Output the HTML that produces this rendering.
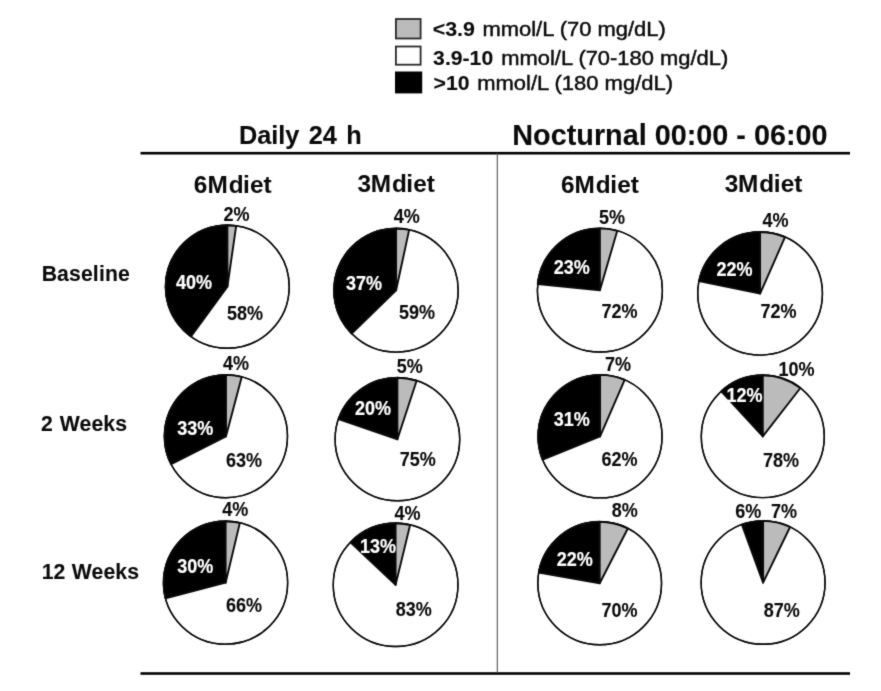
<!DOCTYPE html>
<html lang="en"><head><meta charset="utf-8"><title>Time in glucose ranges</title>
<style>
html,body{margin:0;padding:0;background:#fff;}
body{width:881px;height:691px;overflow:hidden;position:relative;}
svg{position:absolute;left:0;top:0;display:block;}
text{font-family:"Liberation Sans",Arial,Helvetica,sans-serif;fill:#0a0a0a;stroke:#0a0a0a;stroke-width:0.1px;}
.b{font-weight:bold;}
.p{font-weight:bold;font-size:19.4px;stroke-width:0.1px;}
.w{fill:#fff;stroke:#fff;stroke-width:0.2px;}
.lg{font-size:21.1px;}
.r{stroke-width:0.45px;}
.sh{font-weight:bold;font-size:23px;stroke-width:0.05px;}
.rl{font-weight:bold;font-size:21.2px;letter-spacing:0.13px;}
</style></head><body>
<svg width="881" height="691" viewBox="0 0 881 691">
<rect width="881" height="691" fill="#fff"/>
<defs><filter id="soft" filterUnits="userSpaceOnUse" x="0" y="0" width="881" height="691" color-interpolation-filters="sRGB"><feConvolveMatrix order="3" kernelMatrix="0.01609 0.09468 0.01609 0.09468 0.55692 0.09468 0.01609 0.09468 0.01609" divisor="1" edgeMode="duplicate" preserveAlpha="true"/></filter></defs>
<g filter="url(#soft)">
<rect width="881" height="691" fill="#fff"/>
<rect x="395.9" y="19.0" width="24.7" height="19.5" fill="#bbbbbb" stroke="#2a2a2a" stroke-width="1.8"/>
<rect x="395.9" y="46.5" width="24.7" height="18.2" fill="#fff" stroke="#2a2a2a" stroke-width="1.8"/>
<rect x="395" y="71.5" width="27.2" height="21.9" fill="#000"/>
<text class="lg" y="35.6"><tspan class="b" x="432.70" textLength="42.29" lengthAdjust="spacingAndGlyphs">&lt;3.9</tspan> <tspan class="r" x="482.45" textLength="183.31" lengthAdjust="spacingAndGlyphs">mmol/L (70 mg/dL)</tspan></text>
<text class="lg" y="64.6"><tspan class="b" x="433.11" textLength="60.05" lengthAdjust="spacingAndGlyphs">3.9-10</tspan> <tspan class="r" x="501.25" textLength="227.00" lengthAdjust="spacingAndGlyphs">mmol/L (70-180 mg/dL)</tspan></text>
<text class="lg" y="89.6"><tspan class="b" x="433.51" textLength="35.96" lengthAdjust="spacingAndGlyphs">&gt;10</tspan> <tspan class="r" x="477.15" textLength="195.91" lengthAdjust="spacingAndGlyphs">mmol/L (180 mg/dL)</tspan></text>
<text class="b" id="h1" x="238.9" y="144.0" font-size="25.3" word-spacing="2.4">Daily 24 h</text>
<text class="b" id="h2" x="512.3" y="145.2" font-size="28.8">Nocturnal 00:00 - 06:00</text>
<rect x="140.5" y="151.9" width="709.5" height="2.6" fill="#000"/>
<rect x="140.5" y="672.2" width="709.5" height="2.6" fill="#000"/>
<rect x="496.75" y="153" width="1.1" height="520" fill="#555"/>
<text class="sh" transform="translate(194.10 192.60) scale(1.06 1)" x="-0.28 12.61 32.64 46.13 52.78 65.47">6Mdiet</text>
<text class="sh" transform="translate(357.40 191.90) scale(1.06 1)" x="0.04 12.61 32.64 46.13 52.78 65.47">3Mdiet</text>
<text class="sh" transform="translate(561.25 192.60) scale(1.06 1)" x="-0.28 12.61 32.64 46.13 52.78 65.47">6Mdiet</text>
<text class="sh" transform="translate(724.75 192.00) scale(1.06 1)" x="0.04 12.61 32.64 46.13 52.78 65.47">3Mdiet</text>
<text class="rl" x="41.70" y="281.0" word-spacing="0">Baseline</text>
<text class="rl" x="40.90" y="431.0" word-spacing="0.9">2 Weeks</text>
<text class="rl" x="41.70" y="578.5" word-spacing="0.2">12 Weeks</text>
<ellipse cx="227.40" cy="286.70" rx="61.80" ry="61.50" fill="#fff" stroke="#0a0a0a" stroke-width="1.4"/>
<path d="M227.40 286.70L191.02 336.41A61.80 61.50 0 0 1 227.40 225.20Z" fill="#000" stroke="#0a0a0a" stroke-width="1.9" stroke-linejoin="round"/>
<path d="M227.40 286.70L227.40 225.20A61.80 61.50 0 0 1 236.17 225.82Z" fill="#bbbbbb" stroke="#0a0a0a" stroke-width="1.9" stroke-linejoin="round"/>
<ellipse cx="227.40" cy="286.70" rx="61.80" ry="61.50" fill="none" stroke="#0a0a0a" stroke-width="1.4"/>
<ellipse cx="396.10" cy="290.30" rx="62.10" ry="61.80" fill="#fff" stroke="#0a0a0a" stroke-width="1.4"/>
<path d="M396.10 290.30L351.68 333.49A62.10 61.80 0 0 1 396.10 228.50Z" fill="#000" stroke="#0a0a0a" stroke-width="1.9" stroke-linejoin="round"/>
<path d="M396.10 290.30L396.10 228.50A62.10 61.80 0 0 1 409.16 229.88Z" fill="#bbbbbb" stroke="#0a0a0a" stroke-width="1.9" stroke-linejoin="round"/>
<ellipse cx="396.10" cy="290.30" rx="62.10" ry="61.80" fill="none" stroke="#0a0a0a" stroke-width="1.4"/>
<ellipse cx="599.90" cy="290.20" rx="62.50" ry="61.80" fill="#fff" stroke="#0a0a0a" stroke-width="1.4"/>
<path d="M599.90 290.20L537.72 283.99A62.50 61.80 0 0 1 599.90 228.40Z" fill="#000" stroke="#0a0a0a" stroke-width="1.9" stroke-linejoin="round"/>
<path d="M599.90 290.20L599.90 228.40A62.50 61.80 0 0 1 617.26 230.83Z" fill="#bbbbbb" stroke="#0a0a0a" stroke-width="1.9" stroke-linejoin="round"/>
<ellipse cx="599.90" cy="290.20" rx="62.50" ry="61.80" fill="none" stroke="#0a0a0a" stroke-width="1.4"/>
<ellipse cx="760.10" cy="293.60" rx="62.35" ry="61.55" fill="#fff" stroke="#0a0a0a" stroke-width="1.4"/>
<path d="M760.10 293.60L699.03 281.18A62.35 61.55 0 0 1 760.10 232.05Z" fill="#000" stroke="#0a0a0a" stroke-width="1.9" stroke-linejoin="round"/>
<path d="M760.10 293.60L760.10 232.05A62.35 61.55 0 0 1 784.99 237.17Z" fill="#bbbbbb" stroke="#0a0a0a" stroke-width="1.9" stroke-linejoin="round"/>
<ellipse cx="760.10" cy="293.60" rx="62.35" ry="61.55" fill="none" stroke="#0a0a0a" stroke-width="1.4"/>
<ellipse cx="226.00" cy="436.30" rx="61.50" ry="61.45" fill="#fff" stroke="#0a0a0a" stroke-width="1.4"/>
<path d="M226.00 436.30L171.16 464.12A61.50 61.45 0 0 1 226.00 374.85Z" fill="#000" stroke="#0a0a0a" stroke-width="1.9" stroke-linejoin="round"/>
<path d="M226.00 436.30L226.00 374.85A61.50 61.45 0 0 1 241.70 376.89Z" fill="#bbbbbb" stroke="#0a0a0a" stroke-width="1.9" stroke-linejoin="round"/>
<ellipse cx="226.00" cy="436.30" rx="61.50" ry="61.45" fill="none" stroke="#0a0a0a" stroke-width="1.4"/>
<ellipse cx="397.40" cy="439.25" rx="62.30" ry="61.45" fill="#fff" stroke="#0a0a0a" stroke-width="1.4"/>
<path d="M397.40 439.25L338.54 419.10A62.30 61.45 0 0 1 397.40 377.80Z" fill="#000" stroke="#0a0a0a" stroke-width="1.9" stroke-linejoin="round"/>
<path d="M397.40 439.25L397.40 377.80A62.30 61.45 0 0 1 416.62 380.80Z" fill="#bbbbbb" stroke="#0a0a0a" stroke-width="1.9" stroke-linejoin="round"/>
<ellipse cx="397.40" cy="439.25" rx="62.30" ry="61.45" fill="none" stroke="#0a0a0a" stroke-width="1.4"/>
<ellipse cx="600.10" cy="436.40" rx="61.95" ry="61.50" fill="#fff" stroke="#0a0a0a" stroke-width="1.4"/>
<path d="M600.10 436.40L542.72 459.58A61.95 61.50 0 0 1 600.10 374.90Z" fill="#000" stroke="#0a0a0a" stroke-width="1.9" stroke-linejoin="round"/>
<path d="M600.10 436.40L600.10 374.90A61.95 61.50 0 0 1 624.65 379.94Z" fill="#bbbbbb" stroke="#0a0a0a" stroke-width="1.9" stroke-linejoin="round"/>
<ellipse cx="600.10" cy="436.40" rx="61.95" ry="61.50" fill="none" stroke="#0a0a0a" stroke-width="1.4"/>
<ellipse cx="762.80" cy="436.45" rx="61.50" ry="61.20" fill="#fff" stroke="#0a0a0a" stroke-width="1.4"/>
<path d="M762.80 436.45L721.28 391.30A61.50 61.20 0 0 1 762.80 375.25Z" fill="#000" stroke="#0a0a0a" stroke-width="1.9" stroke-linejoin="round"/>
<path d="M762.80 436.45L762.80 375.25A61.50 61.20 0 0 1 800.38 388.00Z" fill="#bbbbbb" stroke="#0a0a0a" stroke-width="1.9" stroke-linejoin="round"/>
<ellipse cx="762.80" cy="436.45" rx="61.50" ry="61.20" fill="none" stroke="#0a0a0a" stroke-width="1.4"/>
<ellipse cx="225.60" cy="582.70" rx="62.05" ry="61.45" fill="#fff" stroke="#0a0a0a" stroke-width="1.4"/>
<path d="M225.60 582.70L165.56 598.23A62.05 61.45 0 0 1 225.60 521.25Z" fill="#000" stroke="#0a0a0a" stroke-width="1.9" stroke-linejoin="round"/>
<path d="M225.60 582.70L225.60 521.25A62.05 61.45 0 0 1 239.85 522.89Z" fill="#bbbbbb" stroke="#0a0a0a" stroke-width="1.9" stroke-linejoin="round"/>
<ellipse cx="225.60" cy="582.70" rx="62.05" ry="61.45" fill="none" stroke="#0a0a0a" stroke-width="1.4"/>
<ellipse cx="395.60" cy="584.90" rx="62.35" ry="61.60" fill="#fff" stroke="#0a0a0a" stroke-width="1.4"/>
<path d="M395.60 584.90L350.48 542.38A62.35 61.60 0 0 1 395.60 523.30Z" fill="#000" stroke="#0a0a0a" stroke-width="1.9" stroke-linejoin="round"/>
<path d="M395.60 584.90L395.60 523.30A62.35 61.60 0 0 1 410.09 524.99Z" fill="#bbbbbb" stroke="#0a0a0a" stroke-width="1.9" stroke-linejoin="round"/>
<ellipse cx="395.60" cy="584.90" rx="62.35" ry="61.60" fill="none" stroke="#0a0a0a" stroke-width="1.4"/>
<ellipse cx="599.70" cy="583.25" rx="61.85" ry="61.45" fill="#fff" stroke="#0a0a0a" stroke-width="1.4"/>
<path d="M599.70 583.25L538.78 572.62A61.85 61.45 0 0 1 599.70 521.80Z" fill="#000" stroke="#0a0a0a" stroke-width="1.9" stroke-linejoin="round"/>
<path d="M599.70 583.25L599.70 521.80A61.85 61.45 0 0 1 627.83 528.52Z" fill="#bbbbbb" stroke="#0a0a0a" stroke-width="1.9" stroke-linejoin="round"/>
<ellipse cx="599.70" cy="583.25" rx="61.85" ry="61.45" fill="none" stroke="#0a0a0a" stroke-width="1.4"/>
<ellipse cx="763.10" cy="582.55" rx="61.95" ry="61.70" fill="#fff" stroke="#0a0a0a" stroke-width="1.4"/>
<path d="M763.10 582.55L741.89 524.58A61.95 61.70 0 0 1 763.10 520.85Z" fill="#000" stroke="#0a0a0a" stroke-width="1.9" stroke-linejoin="round"/>
<path d="M763.10 582.55L763.10 520.85A61.95 61.70 0 0 1 790.07 527.00Z" fill="#bbbbbb" stroke="#0a0a0a" stroke-width="1.9" stroke-linejoin="round"/>
<ellipse cx="763.10" cy="582.55" rx="61.95" ry="61.70" fill="none" stroke="#0a0a0a" stroke-width="1.4"/>
<text class="p" text-anchor="middle" transform="translate(236.57 220.50) scale(0.93 1)">2%</text>
<text class="p w" text-anchor="middle" transform="translate(194.07 288.75) scale(0.93 1)">40%</text>
<text class="p" text-anchor="middle" transform="translate(244.95 320.00) scale(0.93 1)">58%</text>
<text class="p" text-anchor="middle" transform="translate(406.70 222.80) scale(0.93 1)">4%</text>
<text class="p w" text-anchor="middle" transform="translate(364.07 290.00) scale(0.93 1)">37%</text>
<text class="p" text-anchor="middle" transform="translate(416.95 319.25) scale(0.93 1)">59%</text>
<text class="p" text-anchor="middle" transform="translate(611.95 224.00) scale(0.93 1)">5%</text>
<text class="p w" text-anchor="middle" transform="translate(571.83 274.25) scale(0.93 1)">23%</text>
<text class="p" text-anchor="middle" transform="translate(619.45 318.25) scale(0.93 1)">72%</text>
<text class="p" text-anchor="middle" transform="translate(775.45 227.00) scale(0.93 1)">4%</text>
<text class="p w" text-anchor="middle" transform="translate(734.45 276.25) scale(0.93 1)">22%</text>
<text class="p" text-anchor="middle" transform="translate(778.45 318.25) scale(0.93 1)">72%</text>
<text class="p" text-anchor="middle" transform="translate(235.95 369.50) scale(0.93 1)">4%</text>
<text class="p w" text-anchor="middle" transform="translate(195.32 434.50) scale(0.93 1)">33%</text>
<text class="p" text-anchor="middle" transform="translate(244.07 467.00) scale(0.93 1)">63%</text>
<text class="p" text-anchor="middle" transform="translate(409.70 372.60) scale(0.93 1)">5%</text>
<text class="p w" text-anchor="middle" transform="translate(373.07 415.00) scale(0.93 1)">20%</text>
<text class="p" text-anchor="middle" transform="translate(417.82 466.25) scale(0.93 1)">75%</text>
<text class="p" text-anchor="middle" transform="translate(618.08 371.25) scale(0.93 1)">7%</text>
<text class="p w" text-anchor="middle" transform="translate(571.83 426.25) scale(0.93 1)">31%</text>
<text class="p" text-anchor="middle" transform="translate(619.45 466.25) scale(0.93 1)">62%</text>
<text class="p" text-anchor="middle" transform="translate(796.58 376.25) scale(0.93 1)">10%</text>
<text class="p w" text-anchor="middle" transform="translate(744.45 402.10) scale(0.93 1)">12%</text>
<text class="p" text-anchor="middle" transform="translate(781.08 467.00) scale(0.93 1)">78%</text>
<text class="p" text-anchor="middle" transform="translate(235.20 515.75) scale(0.93 1)">4%</text>
<text class="p w" text-anchor="middle" transform="translate(195.32 573.25) scale(0.93 1)">30%</text>
<text class="p" text-anchor="middle" transform="translate(244.07 611.75) scale(0.93 1)">66%</text>
<text class="p" text-anchor="middle" transform="translate(407.45 519.80) scale(0.93 1)">4%</text>
<text class="p w" text-anchor="middle" transform="translate(378.07 552.50) scale(0.93 1)">13%</text>
<text class="p" text-anchor="middle" transform="translate(413.82 615.50) scale(0.93 1)">83%</text>
<text class="p" text-anchor="middle" transform="translate(624.70 516.75) scale(0.93 1)">8%</text>
<text class="p w" text-anchor="middle" transform="translate(574.83 565.50) scale(0.93 1)">22%</text>
<text class="p" text-anchor="middle" transform="translate(619.45 616.75) scale(0.93 1)">70%</text>
<text class="p" text-anchor="middle" transform="translate(748.20 518.25) scale(0.93 1)">6%</text>
<text class="p" text-anchor="middle" transform="translate(784.08 518.25) scale(0.93 1)">7%</text>
<text class="p" text-anchor="middle" transform="translate(781.70 616.75) scale(0.93 1)">87%</text>
</g>
</svg></body></html>
